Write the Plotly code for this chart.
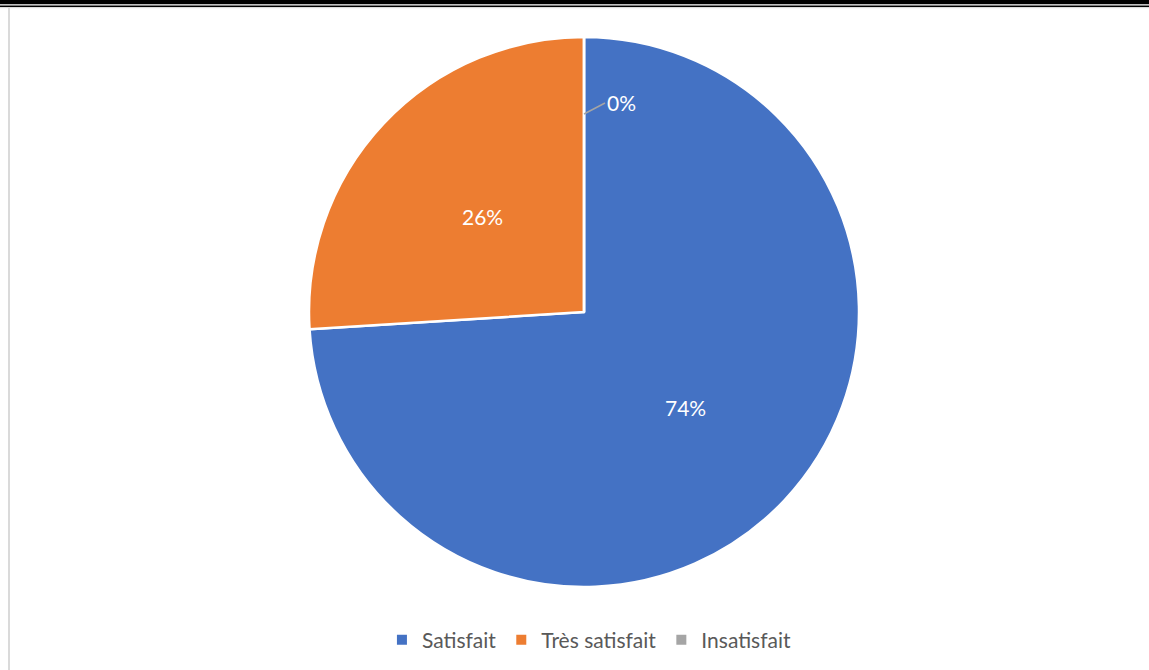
import math
import plotly.graph_objects as go

# Survey results
categories = ["Satisfait", "Très satisfait", "Insatisfait"]
values = [74, 26, 0]
colors = ["#4472C4", "#ED7D31", "#A5A5A5"]

W, H = 1149, 670
FONT = "Lato, Carlito, sans-serif"
# pie placement (paper fractions)
dom_x = [309 / W, 859 / W]
dom_y = [83 / H, 633 / H]

fig = go.Figure()
fig.add_trace(go.Pie(
    labels=categories,
    values=values,
    marker=dict(colors=colors, line=dict(color="white", width=2.5)),
    sort=False,
    direction="clockwise",
    rotation=0,
    textinfo="none",
    domain=dict(x=dom_x, y=dom_y),
    hoverinfo="label+percent",
))

# Percentage labels placed at each slice's mid-angle
total = sum(values)
cx = (dom_x[0] + dom_x[1]) / 2 * W
cy = (1 - (dom_y[0] + dom_y[1]) / 2) * H
radius = (dom_x[1] - dom_x[0]) * W / 2
cum = 0
for cat, v in zip(categories, values):
    pct = f"{round(100 * v / total)}%"
    if v == 0:
        # zero-valued slice: label outside the wedge with a leader line
        ang = math.radians(360 * cum / total)
        px = cx + 0.72 * radius * math.sin(ang)
        py = cy - 0.72 * radius * math.cos(ang)
        fig.add_annotation(
            x=px / W, y=1 - py / H, xref="paper", yref="paper",
            text=pct,
            showarrow=True, arrowhead=0, arrowwidth=1.5, arrowcolor="#A5A5A5",
            ax=21, ay=-11, xanchor="left",
            font=dict(color="white", size=21, family=FONT),
        )
    else:
        ang = math.radians(360 * (cum + v / 2) / total)
        px = cx + 0.505 * radius * math.sin(ang)
        py = cy - 0.505 * radius * math.cos(ang)
        fig.add_annotation(
            x=px / W, y=1 - py / H, xref="paper", yref="paper",
            text=pct, showarrow=False, xanchor="center", yanchor="middle",
            font=dict(color="white", size=21, family=FONT),
        )
    cum += v

# Frame decorations: double rule at the top and a faint rule on the left
fig.add_shape(type="rect", xref="paper", yref="paper", x0=0, x1=1,
              y0=1 - 4.3 / H, y1=1.01, fillcolor="black", line_width=0, layer="above")
fig.add_shape(type="rect", xref="paper", yref="paper", x0=0, x1=1,
              y0=1 - 7.2 / H, y1=1 - 5.4 / H, fillcolor="black", line_width=0, layer="above")
fig.add_shape(type="rect", xref="paper", yref="paper", x0=0, x1=1,
              y0=1 - 8.2 / H, y1=1 - 7.2 / H, fillcolor="#E6E6E6", line_width=0, layer="above")
fig.add_shape(type="rect", xref="paper", yref="paper", x0=8 / W, x1=10 / W,
              y0=-0.01, y1=1 - 7.5 / H, fillcolor="#DADADA", line_width=0, layer="above")

fig.update_layout(
    width=W, height=H,
    margin=dict(l=0, r=0, t=0, b=0),
    paper_bgcolor="white",
    plot_bgcolor="white",
    showlegend=True,
    legend=dict(
        orientation="h", x=0.513, xanchor="center", y=30 / H, yanchor="middle",
        font=dict(color="#595959", size=21, family=FONT),
        itemsizing="constant", itemwidth=30,
    ),
)

fig.write_html("out.html")
